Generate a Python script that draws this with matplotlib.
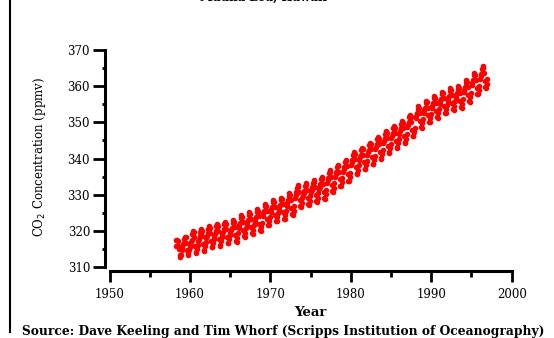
import matplotlib
matplotlib.use("Agg")
import matplotlib.pyplot as plt
from matplotlib.lines import Line2D
import numpy as np

# Monthly CO2 (ppmv) at Mauna Loa, starting March 1958
start_year = 1958
start_month = 3
co2_monthly = [
    315.7, 317.5, 317.5, 317.1, 315.9, 314.9, 313.2, 312.7, 313.3, 314.7,
    315.6, 316.4, 316.7, 317.7, 318.3, 318.2, 316.5, 314.8, 313.8, 313.3, 314.8, 315.6,
    316.4, 317.0, 317.6, 319.0, 320.0, 319.6, 318.2, 315.9, 314.2, 313.8, 315.0, 316.2,
    317.1, 317.8, 318.5, 319.8, 320.5, 320.0, 318.6, 316.4, 314.7, 314.5, 315.7, 316.9,
    318.0, 318.6, 319.4, 320.6, 321.3, 320.8, 319.4, 317.3, 315.5, 315.4, 316.5, 317.7,
    318.5, 319.2, 319.9, 321.2, 321.9, 321.4, 320.0, 317.8, 316.1, 315.9, 317.1, 318.3,
    319.1, 319.8, 320.5, 321.8, 322.5, 322.0, 320.6, 318.4, 316.7, 316.5, 317.7, 318.9,
    319.5, 320.2, 320.9, 322.2, 322.9, 322.4, 321.0, 318.8, 317.1, 316.9, 318.1, 319.3,
    320.9, 321.6, 322.3, 323.6, 324.3, 323.8, 322.4, 320.2, 318.5, 318.3, 319.5, 320.7,
    321.7, 322.4, 323.1, 324.4, 325.1, 324.6, 323.2, 321.0, 319.3, 319.1, 320.3, 321.5,
    322.5, 323.2, 323.9, 325.2, 325.9, 325.4, 324.0, 321.8, 320.1, 319.9, 321.1, 322.3,
    324.1, 324.8, 325.5, 326.8, 327.5, 327.0, 325.6, 323.4, 321.7, 321.5, 322.7, 323.9,
    325.2, 325.9, 326.6, 327.9, 328.6, 328.1, 326.7, 324.5, 322.8, 322.6, 323.8, 325.0,
    325.8, 326.5, 327.2, 328.5, 329.2, 328.7, 327.3, 325.1, 323.4, 323.2, 324.4, 325.6,
    327.0, 327.7, 328.4, 329.7, 330.4, 329.9, 328.5, 326.3, 324.6, 324.4, 325.6, 326.8,
    329.2, 329.9, 330.6, 331.9, 332.6, 332.1, 330.7, 328.5, 326.8, 326.6, 327.8, 329.0,
    329.7, 330.4, 331.1, 332.4, 333.1, 332.6, 331.2, 329.0, 327.3, 327.1, 328.3, 329.5,
    330.6, 331.3, 332.0, 333.3, 334.0, 333.5, 332.1, 329.9, 328.2, 328.0, 329.2, 330.4,
    331.5, 332.2, 332.9, 334.2, 334.9, 334.4, 333.0, 330.8, 329.1, 328.9, 330.1, 331.3,
    333.3, 334.0, 334.7, 336.0, 336.7, 336.2, 334.8, 332.6, 330.9, 330.7, 331.9, 333.1,
    334.9, 335.6, 336.3, 337.6, 338.3, 337.8, 336.4, 334.2, 332.5, 332.3, 333.5, 334.7,
    336.3, 337.0, 337.7, 339.0, 339.7, 339.2, 337.8, 335.6, 333.9, 333.7, 334.9, 336.1,
    338.3, 339.0, 339.7, 341.0, 341.7, 341.2, 339.8, 337.6, 335.9, 335.7, 336.9, 338.1,
    339.6, 340.3, 341.0, 342.3, 343.0, 342.5, 341.1, 338.9, 337.2, 337.0, 338.2, 339.4,
    341.0, 341.7, 342.4, 343.7, 344.4, 343.9, 342.5, 340.3, 338.6, 338.4, 339.6, 340.8,
    342.6, 343.3, 344.0, 345.3, 346.0, 345.5, 344.1, 341.9, 340.2, 340.0, 341.2, 342.4,
    344.2, 344.9, 345.6, 346.9, 347.6, 347.1, 345.7, 343.5, 341.8, 341.6, 342.8, 344.0,
    345.6, 346.3, 347.0, 348.3, 349.0, 348.5, 347.1, 344.9, 343.2, 343.0, 344.2, 345.4,
    346.9, 347.6, 348.3, 349.6, 350.3, 349.8, 348.4, 346.2, 344.5, 344.3, 345.5, 346.7,
    348.7, 349.4, 350.1, 351.4, 352.1, 351.6, 350.2, 348.0, 346.3, 346.1, 347.3, 348.5,
    351.1, 351.8, 352.5, 353.8, 354.5, 354.0, 352.6, 350.4, 348.7, 348.5, 349.7, 350.9,
    352.6, 353.3, 354.0, 355.3, 356.0, 355.5, 354.1, 351.9, 350.2, 350.0, 351.2, 352.4,
    353.9, 354.6, 355.3, 356.6, 357.3, 356.8, 355.4, 353.2, 351.5, 351.3, 352.5, 353.7,
    355.1, 355.8, 356.5, 357.8, 358.5, 358.0, 356.6, 354.4, 352.7, 352.5, 353.7, 354.9,
    356.0, 356.7, 357.4, 358.7, 359.4, 358.9, 357.5, 355.3, 353.6, 353.4, 354.6, 355.8,
    356.6, 357.3, 358.0, 359.3, 360.0, 359.5, 358.1, 355.9, 354.2, 354.0, 355.2, 356.4,
    358.3, 359.0, 359.7, 361.0, 361.7, 361.2, 359.8, 357.6, 355.9, 355.7, 356.9, 358.1,
    360.3, 361.0, 361.7, 363.0, 363.7, 363.2, 361.8, 359.6, 357.9, 357.7, 358.9, 360.1,
    362.1, 362.8, 363.5, 364.8, 365.5, 365.0, 363.6, 361.4, 359.7, 359.5, 360.7, 361.9,
]
x_ticks = [1950, 1960, 1970, 1980, 1990, 2000]
y_ticks = [310, 320, 330, 340, 350, 360, 370]

title = "Mauna Loa, Hawaii"
xlabel = "Year"
ylabel = "CO$_2$ Concentration (ppmv)"
source = "Source: Dave Keeling and Tim Whorf (Scripps Institution of Oceanography)"

months_since = np.arange(len(co2_monthly)) + (start_month - 1)
dates = start_year + (months_since + 0.5) / 12.0

W, H = 554, 338
fig = plt.figure(figsize=(W / 100, H / 100), dpi=100)
fig.patch.set_facecolor("white")

x0, x1 = 109.5, 511.7
y310, y370 = 267.0, 50.0
ax = fig.add_axes([x0 / W, (H - y310) / H, (x1 - x0) / W, (y310 - y370) / H])

ax.plot(dates, co2_monthly, linestyle="none", marker="o", markersize=4.0,
        color="#ff0000", markeredgewidth=0)

ax.set_xlim(1950, 2000)
ax.set_ylim(310, 370)
ax.set_xticks(x_ticks)
ax.set_yticks(y_ticks)
ax.set_xticks(np.arange(1955, 2000, 10), minor=True)
ax.set_yticks(np.arange(315, 370, 10), minor=True)

for s in ["top", "right"]:
    ax.spines[s].set_visible(False)
for s in ["left", "bottom"]:
    ax.spines[s].set_linewidth(2.2)
    ax.spines[s].set_position(("outward", 3))

serif = "DejaVu Serif"
ax.tick_params(axis="both", which="major", direction="out", width=2.0, length=8,
               labelsize=8.5, colors="black")
ax.tick_params(axis="x", which="major", pad=4)
ax.tick_params(axis="y", which="major", length=9, pad=2)
ax.tick_params(axis="x", which="minor", direction="out", width=2.0, length=4)
ax.tick_params(axis="y", which="minor", direction="out", width=2.0, length=2)
for lab in ax.get_xticklabels() + ax.get_yticklabels():
    lab.set_fontfamily(serif)

fig.text(310.6 / W, 1 - 312 / H, xlabel, ha="center", va="center",
         fontsize=9.5, fontweight="bold", family=serif)
fig.text(40 / W, 1 - 157 / H, ylabel, ha="center", va="center", rotation=90,
         fontsize=8.5, family=serif)
fig.text(22 / W, 1 - 331 / H, source, ha="left", va="center",
         fontsize=8.8, fontweight="bold", family=serif)
fig.text(264 / W, 1 - 1 / H, title, ha="center", va="baseline",
         fontsize=8.5, fontweight="bold", family=serif)

fig.add_artist(Line2D([9.5 / W, 9.5 / W], [1 - 332 / H, 1.0], transform=fig.transFigure,
                      color="black", linewidth=1.5))

fig.savefig("out.png", dpi=100, facecolor="white")
